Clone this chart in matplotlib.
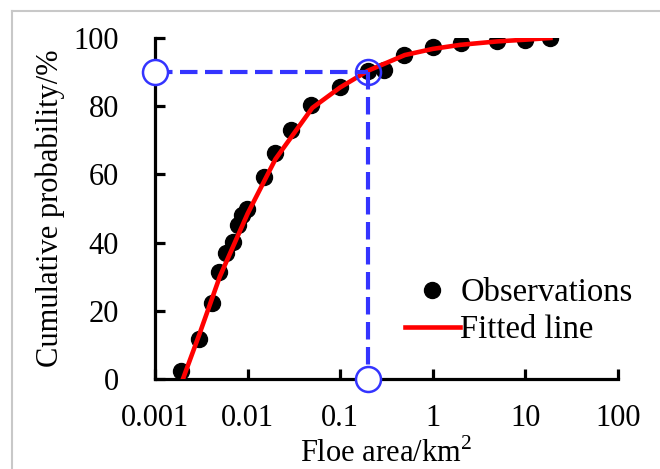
import matplotlib
matplotlib.use('Agg')
import matplotlib.pyplot as plt
from matplotlib.lines import Line2D

plt.rcParams['font.family'] = ['Liberation Serif', 'DejaVu Serif']
plt.rcParams['mathtext.fontset'] = 'custom'
plt.rcParams['mathtext.rm'] = 'Liberation Serif'

# observed floe areas (km2) and cumulative probability (%)
obs_area = [0.0019, 0.0030, 0.0041, 0.0049, 0.0059, 0.0069, 0.0079, 0.0088, 0.0098,
            0.0149, 0.0198, 0.0294, 0.049, 0.10, 0.20, 0.30, 0.49, 1.0, 2.0, 5.0, 10.0, 18.7]
obs_prob = [2.2, 11.8, 22.4, 31.3, 36.8, 40.2, 45.2, 48.0, 49.8,
            59.2, 66.2, 73.0, 80.3, 85.6, 90.3, 90.6, 95.0, 97.3, 98.4, 99.0, 99.5, 100.0]

# fitted curve
fit_area = [0.002, 0.003, 0.005, 0.01, 0.02, 0.05, 0.1, 0.2, 0.5, 1, 2, 5, 10, 18.7]
fit_prob = [0, 13, 30, 48.5, 64.5, 79.5, 85.5, 90.4, 95.0, 96.8, 98.0, 99.0, 99.5, 100]

# 90% quantile guide
q_area = 0.2
q_prob = 90

xticks = [0.001, 0.01, 0.1, 1, 10, 100]
xticklabels = ['0.001', '0.01', '0.1', '1', '10', '100']
yticks = [0, 20, 40, 60, 80, 100]

blue = '#3434ff'

fig = plt.figure(figsize=(6.6, 4.69), dpi=100)
ax = fig.add_axes([0.235, 0.192, 0.701, 0.727])

# grey frame of the original picture
fig.add_artist(Line2D([12 / 660, 1.0], [1 - 11 / 469, 1 - 11 / 469], transform=fig.transFigure,
                      color='#c8c8c8', lw=1.5))
fig.add_artist(Line2D([12 / 660, 12 / 660], [0.0, 1 - 11 / 469], transform=fig.transFigure,
                      color='#c8c8c8', lw=1.5))

ax.plot(obs_area, obs_prob, 'o', color='black', ms=11.5, label='Observations', zorder=3)
ax.plot(fit_area, fit_prob, '-', color='red', lw=3.3, label='Fitted line', zorder=4)

dash = (0, (4.2, 1.8))
ax.plot([0.001, q_area], [q_prob, q_prob], color=blue, lw=3, linestyle=dash, zorder=5, clip_on=False)
ax.plot([q_area, q_area], [q_prob, 0], color=blue, lw=3, linestyle=dash, zorder=5, clip_on=False)
ax.plot([0.001, q_area], [q_prob, 0], 'o', ms=18, mfc='white', mec=blue, mew=1.8, zorder=6, clip_on=False)
ax.plot([q_area], [q_prob], 'o', ms=18, mfc='none', mec=blue, mew=1.8, zorder=6, clip_on=False)

ax.set_xscale('log')
ax.set_xlim(0.001, 100)
ax.set_ylim(0, 100)
ax.set_xticks(xticks)
ax.set_xticklabels(xticklabels)
ax.minorticks_off()
ax.set_yticks(yticks)

for s in ['top', 'right']:
    ax.spines[s].set_visible(False)
for s in ['left', 'bottom']:
    ax.spines[s].set_linewidth(2.3)

ax.tick_params(axis='both', direction='in', length=7, width=2.3, labelsize=22)
ax.tick_params(axis='x', pad=18)
ax.tick_params(axis='y', pad=26)

ax.set_xlabel('Floe area/km$^2$', fontsize=22, labelpad=4)
ax.set_ylabel('Cumulative probability/%', fontsize=22, labelpad=6)

ax.legend(loc='lower right', bbox_to_anchor=(1.06, 0.06), frameon=False, fontsize=23.5,
          handlelength=1.7, handletextpad=0.0, labelspacing=0.2, borderaxespad=0)

fig.savefig('out.png', dpi=100)
